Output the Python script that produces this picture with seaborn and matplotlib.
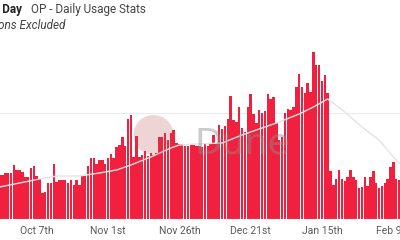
import matplotlib
matplotlib.use("Agg")
import matplotlib.pyplot as plt
import matplotlib.patches as mpatches
import seaborn as sns
import pandas as pd
import numpy as np

# ---- data (daily transactions, thousands) ----
start_date = "2022-09-24"
daily_tx = [
    44, 44, 46, 46, 46, 54, 49, 49, 47, 42,
    42, 51, 53, 43, 40, 26, 27, 36, 36, 55,
    37, 39, 39, 39, 36, 39, 34, 39, 34, 43,
    43, 53, 61, 61, 55, 59, 59, 55, 61, 65,
    61, 72, 74, 82, 73, 100, 104, 62, 83, 62,
    64, 68, 63, 66, 64, 66, 82, 82, 86, 79,
    86, 89, 76, 75, 75, 73, 73, 74, 74, 73,
    73,
    72, 76, 73, 75, 84, 76, 94, 90, 93, 100,
    123, 99, 97, 112, 91, 87, 112, 125, 105, 96,
    109, 106, 108, 125, 120, 122, 96, 79, 82, 106,
    110, 109, 112, 132, 145, 132, 126, 136, 127, 167,
    154, 154, 138, 144, 126,
    48, 34, 40, 49, 40, 38, 42, 49, 42, 39,
    31, 32, 42, 33, 42, 48, 36, 31, 33, 36,
    40, 52, 57, 40, 39,
]
# 30-day moving average (day index -> value)
ma_day = [0, 7, 14, 20, 28, 35, 41, 46, 53, 60, 63, 69, 78, 85, 93, 98, 105, 110, 115, 121, 127, 133, 138, 140]
ma_val = [32, 36, 40, 43, 43, 46, 49, 54, 62, 71, 74, 75, 76, 84, 92, 97, 105, 112, 120, 107, 92, 79, 62, 56]

tick_days = [13, 38, 63, 88, 113, 138]
tick_labels = ["Oct 7th", "Nov 1st", "Nov 26th", "Dec 21st", "Jan 15th", "Feb 9th"]
grid_value = 106

dates = pd.date_range(start_date, periods=len(daily_tx), freq="D")
df = pd.DataFrame({"day": np.arange(len(daily_tx)), "tx": daily_tx, "date": dates})
ma_df = pd.DataFrame({"day": ma_day, "ma": ma_val})

sns.set_theme(style="white")
plt.rcParams["font.family"] = ["Roboto", "DejaVu Sans"]

W, H = 400, 240
fig = plt.figure(figsize=(4, 2.4), dpi=100)
ax = fig.add_axes([0, 21 / H, 1, 179 / H])

ax.axhline(grid_value, color="#ececec", lw=0.8, zorder=0)
sns.barplot(data=df, x="day", y="tx", color="#f2203f", saturation=1,
            width=0.86, linewidth=0, ax=ax, zorder=2)
sns.lineplot(data=ma_df, x="day", y="ma", color="#e4e4e4", lw=1.0,
             ax=ax, zorder=3)
ax.axhline(0, color="#d0d0d0", lw=0.8, zorder=4)

ax.set_xlim(0.14, 140.35)
ax.set_ylim(0, 179)
ax.set_xticks(tick_days)
ax.set_xticklabels(tick_labels, fontsize=7.5, color="#5a5a5a")
ax.tick_params(axis="x", length=0, pad=5)
ax.set_yticks([])
ax.set_xlabel("")
ax.set_ylabel("")
for s in ax.spines.values():
    s.set_visible(False)

# watermark
fig.patches.append(mpatches.Ellipse((153.5 / W, 1 - 135 / H), 40 / W, 40 / H,
                                    transform=fig.transFigure,
                                    facecolor=(0.72, 0.30, 0.32), alpha=0.24,
                                    edgecolor="none", zorder=5))
fig.text(194 / W, 1 - 143 / H, "Dune", fontsize=26, color="#8c8c8c", alpha=0.45,
         ha="left", va="center", family=["DejaVu Sans"], zorder=6)

# titles
fig.text(22 / W, 1 - 9 / H, "Transactions Per Day", fontsize=8.5, fontweight="bold",
         color="#222222", ha="right", va="center")
fig.text(31 / W, 1 - 9 / H, "OP - Daily Usage Stats", fontsize=8.5, color="#444444",
         ha="left", va="center")
fig.text(65 / W, 1 - 25 / H, "Spam Transactions Excluded", fontsize=8.5, style="italic",
         color="#444444", ha="right", va="center")

fig.savefig("out.png", dpi=100)
